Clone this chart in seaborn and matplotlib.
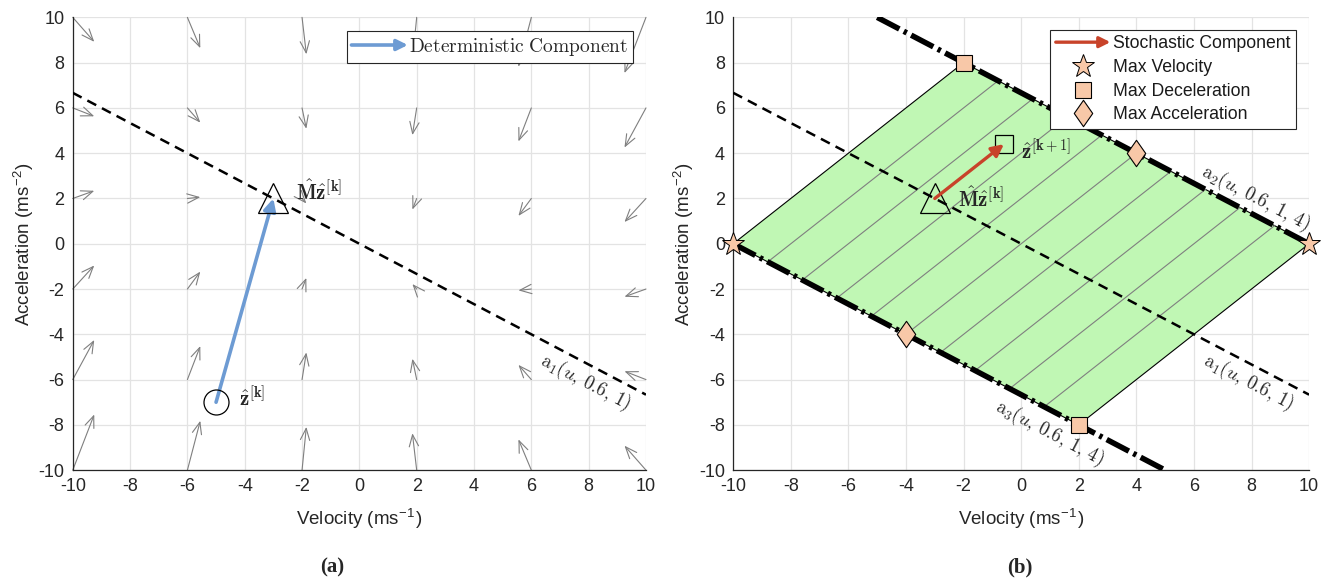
import numpy as np
import matplotlib
matplotlib.use("Agg")
import matplotlib.pyplot as plt
import seaborn as sns
from matplotlib.patches import FancyArrowPatch, Polygon
from matplotlib.legend_handler import HandlerBase
from matplotlib.lines import Line2D
from matplotlib.path import Path

# ---------------- data ----------------
grid_x = [-10, -6, -2, 2, 6, 10]
grid_y = [-10, -6, -2, 2, 6, 10]
# quiver components, rows follow grid_y, columns follow grid_x
field_u = [
    [0.75, 0.45, 0.15, -0.15, -0.45, -0.75],
    [0.75, 0.45, 0.15, -0.15, -0.45, -0.75],
    [0.75, 0.45, 0.15, -0.15, -0.45, -0.75],
    [0.75, 0.45, 0.15, -0.15, -0.45, -0.75],
    [0.75, 0.45, 0.15, -0.15, -0.45, -0.75],
    [0.75, 0.45, 0.15, -0.15, -0.45, -0.75],
]
field_v = [
    [2.46, 2.18, 1.91, 1.63, 1.36, 1.08],
    [1.75, 1.48, 1.20, 0.92, 0.65, 0.37],
    [1.04, 0.77, 0.49, 0.22, -0.06, -0.34],
    [0.34, 0.06, -0.22, -0.49, -0.77, -1.04],
    [-0.37, -0.65, -0.92, -1.20, -1.48, -1.75],
    [-1.08, -1.36, -1.63, -1.91, -2.18, -2.46],
]
z_k = (-5.0, -7.0)
Mz_k = (-3.0, 2.0)
z_k1 = (-0.6, 4.4)

a1_x = [-10, 10]
a1_y = [6.667, -6.667]
a2_x = [-5, 10]
a2_y = [10, 0]
a3_x = [-10, 5]
a3_y = [0, -10]

region_x = [-10, -2, 10, 2]
region_y = [0, 8, 0, -8]

max_vel_x = [-10, 10]
max_vel_y = [0, 0]
max_dec_x = [-2, 2]
max_dec_y = [8, -8]
max_acc_x = [-4, 4]
max_acc_y = [-4, 4]

ticks = [-10, -8, -6, -4, -2, 0, 2, 4, 6, 8, 10]
tick_labels = ["-10", "-8", "-6", "-4", "-2", "0", "2", "4", "6", "8", "10"]

# ---------------- style ----------------
sns.set_theme(style="whitegrid")
plt.rcParams["font.family"] = ["Liberation Sans", "DejaVu Sans"]
plt.rcParams["mathtext.fontset"] = "cm"
plt.rcParams["axes.edgecolor"] = "#262626"
plt.rcParams["grid.color"] = "#e3e3e3"
plt.rcParams["grid.linewidth"] = 0.9

BLUE = "#6d9bd3"
RED = "#c8432a"
PEACH = "#f8c8a8"
GREEN = "#c0f7b4"
GRAY = "#7f7f7f"

fig = plt.figure(figsize=(13.30, 5.79), dpi=100)
axL = fig.add_axes([0.0547, 0.188, 0.431, 0.782])
axR = fig.add_axes([0.5513, 0.188, 0.433, 0.782])


class HandlerArrow(HandlerBase):
    def __init__(self, color, lw, ms):
        super().__init__()
        self.color, self.lw, self.ms = color, lw, ms

    def create_artists(self, legend, orig_handle, xdescent, ydescent,
                       width, height, fontsize, trans):
        y = height / 2 - ydescent
        arr = FancyArrowPatch((-xdescent, y), (width - xdescent, y),
                              arrowstyle="-|>", mutation_scale=self.ms,
                              color=self.color, lw=self.lw,
                              shrinkA=0, shrinkB=0, transform=trans)
        return [arr]


def style_axes(ax):
    ax.set_xlim(-10, 10)
    ax.set_ylim(-10, 10)
    ax.set_xticks(ticks)
    ax.set_xticklabels(tick_labels)
    ax.set_yticks(ticks)
    ax.set_yticklabels(tick_labels)
    for s in ["top", "right"]:
        ax.spines[s].set_visible(False)
    for s in ["left", "bottom"]:
        ax.spines[s].set_color("#262626")
        ax.spines[s].set_linewidth(0.9)
    ax.tick_params(direction="in", length=4, width=0.8, color="#262626",
                   labelsize=13, labelcolor="#262626", pad=6)
    ax.set_xlabel("Velocity (ms$^{\\mathregular{-1}}$)", fontsize=13.5,
                  color="#262626", labelpad=8)
    ax.set_ylabel("Acceleration (ms$^{\\mathregular{-2}}$)", fontsize=13.5,
                  color="#262626", labelpad=2)
    ax.grid(True, color="#e3e3e3", linewidth=0.9)
    ax.set_axisbelow(True)
    ax.set_facecolor("white")


ROT = -27.6

# ---------------- left panel ----------------
style_axes(axL)
for i, yy in enumerate(grid_y):
    for j, xx in enumerate(grid_x):
        axL.annotate("", xy=(xx + field_u[i][j], yy + field_v[i][j]),
                     xytext=(xx, yy), xycoords="data",
                     arrowprops=dict(arrowstyle="->,head_length=0.7,head_width=0.28",
                                     color=GRAY, lw=0.8,
                                     shrinkA=0, shrinkB=0), zorder=2)

sns.lineplot(x=a1_x, y=a1_y, ax=axL, color="black", lw=1.8,
             linestyle=(0, (4, 2.6)), sort=False, zorder=3)
axL.annotate("", xy=Mz_k, xytext=z_k,
             arrowprops=dict(arrowstyle="-|>", color=BLUE, lw=2.6,
                             mutation_scale=18, shrinkA=0, shrinkB=0), zorder=4)
axL.plot(*z_k, marker="o", ms=18, mfc="none", mec="black", mew=0.9, zorder=5)
axL.plot(*Mz_k, marker="^", ms=21, mfc="none", mec="black", mew=0.9, zorder=5)
axL.text(-4.2, -6.8, r"$\hat{\mathbf{z}}^{[\mathbf{k}]}$", fontsize=15,
         ha="left", va="center")
axL.text(-2.2, 2.3, r"$\hat{\mathbf{M}}\hat{\mathbf{z}}^{[\mathbf{k}]}$", fontsize=15,
         ha="left", va="center")
axL.text(7.9, -6.1, r"$\mathrm{a}_1(u,\,0.6,\,1)$", fontsize=13.5, rotation=ROT,
         rotation_mode="anchor", ha="center", va="center")

leg_handle = FancyArrowPatch((0, 0), (1, 1))
legL = axL.legend([leg_handle], [r"$\mathrm{Deterministic\ Component}$"],
                  handler_map={FancyArrowPatch: HandlerArrow(BLUE, 2.6, 16)},
                  loc="upper right", bbox_to_anchor=(0.977, 0.970),
                  borderaxespad=0, fancybox=False, framealpha=1,
                  edgecolor="#262626", fontsize=14, handlelength=2.9,
                  handletextpad=0.05, borderpad=0.25)
legL.get_frame().set_linewidth(0.8)

# ---------------- right panel ----------------
style_axes(axR)
poly = Polygon(np.column_stack([region_x, region_y]), closed=True,
               facecolor=GREEN, edgecolor="black", lw=0.8, zorder=1.5)
axR.add_patch(poly)
# hatch lines parallel to the region's short edges
p0 = np.array([region_x[0], region_y[0]])
p3 = np.array([region_x[3], region_y[3]])
edge = np.array([region_x[1] - region_x[0], region_y[1] - region_y[0]])
for t in np.linspace(0, 1, 11)[1:-1]:
    s = p0 + t * (p3 - p0)
    e = s + edge
    axR.plot([s[0], e[0]], [s[1], e[1]], color=GRAY, lw=0.8, zorder=1.6)

sns.lineplot(x=a1_x, y=a1_y, ax=axR, color="black", lw=1.8,
             linestyle=(0, (4, 2.6)), sort=False, zorder=3)
for xs, ys in [(a2_x, a2_y), (a3_x, a3_y)]:
    axR.plot(xs, ys, color="black", lw=4.0, linestyle=(0, (4.5, 0.9, 0.6, 0.9)),
             zorder=3)

axR.plot(*Mz_k, marker="^", ms=21, mfc="none", mec="black", mew=0.9, zorder=5)
axR.plot(*z_k1, marker="s", ms=13, mfc="none", mec="black", mew=0.9, zorder=5)
axR.annotate("", xy=z_k1, xytext=Mz_k,
             arrowprops=dict(arrowstyle="-|>", color=RED, lw=2.4,
                             mutation_scale=18, shrinkA=0, shrinkB=0), zorder=6)

diamond = Path([(0, 1), (0.7, 0), (0, -1), (-0.7, 0), (0, 1)],
               [Path.MOVETO, Path.LINETO, Path.LINETO, Path.LINETO, Path.CLOSEPOLY])
axR.plot(max_vel_x, max_vel_y, ls="none", marker="*", ms=17, mfc=PEACH,
         mec="black", mew=0.7, zorder=7, clip_on=False)
axR.plot(max_dec_x, max_dec_y, ls="none", marker="s", ms=11, mfc=PEACH,
         mec="black", mew=0.8, zorder=7, clip_on=False)
axR.plot(max_acc_x, max_acc_y, ls="none", marker=diamond, ms=19, mfc=PEACH,
         mec="black", mew=0.8, zorder=7, clip_on=False)

axR.text(-2.2, 2.0, r"$\hat{\mathbf{M}}\hat{\mathbf{z}}^{[\mathbf{k}]}$", fontsize=15,
         ha="left", va="center")
axR.text(0.0, 4.1, r"$\hat{\mathbf{z}}^{[\mathbf{k+1}]}$", fontsize=15,
         ha="left", va="center")
axR.text(7.9, -6.1, r"$\mathrm{a}_1(u,\,0.6,\,1)$", fontsize=13.5, rotation=ROT,
         rotation_mode="anchor", ha="center", va="center")
axR.text(8.15, 2.0, r"$\mathrm{a}_2(u,\,0.6,\,1,\,4)$", fontsize=13.5, rotation=ROT,
         rotation_mode="anchor", ha="center", va="center")
axR.text(1.0, -8.35, r"$\mathrm{a}_3(u,\,0.6,\,1,\,4)$", fontsize=13.5, rotation=ROT,
         rotation_mode="anchor", ha="center", va="center")

hR = [FancyArrowPatch((0, 0), (1, 1)),
      Line2D([], [], ls="none", marker="*", ms=17, mfc=PEACH, mec="black", mew=0.7),
      Line2D([], [], ls="none", marker="s", ms=11, mfc=PEACH, mec="black", mew=0.8),
      Line2D([], [], ls="none", marker=diamond, ms=19, mfc=PEACH, mec="black", mew=0.8)]
legR = axR.legend(hR, ["Stochastic Component", "Max Velocity", "Max Deceleration",
                       "Max Acceleration"],
                  handler_map={FancyArrowPatch: HandlerArrow(RED, 2.4, 16)},
                  loc="upper right", bbox_to_anchor=(0.977, 0.972),
                  borderaxespad=0, fancybox=False, framealpha=1,
                  edgecolor="#262626", fontsize=12.7, handlelength=3.1,
                  handletextpad=0.15, borderpad=0.3, labelspacing=0.38)
legR.get_frame().set_linewidth(0.8)
for t in legR.get_texts():
    t.set_color("#1a1a1a")

fig.text(0.25, 0.02, "(a)", fontsize=15, fontweight="bold",
         family=["Liberation Serif", "DejaVu Serif"], ha="center", va="center")
fig.text(0.767, 0.02, "(b)", fontsize=15, fontweight="bold",
         family=["Liberation Serif", "DejaVu Serif"], ha="center", va="center")

fig.savefig("out.png", dpi=100)
